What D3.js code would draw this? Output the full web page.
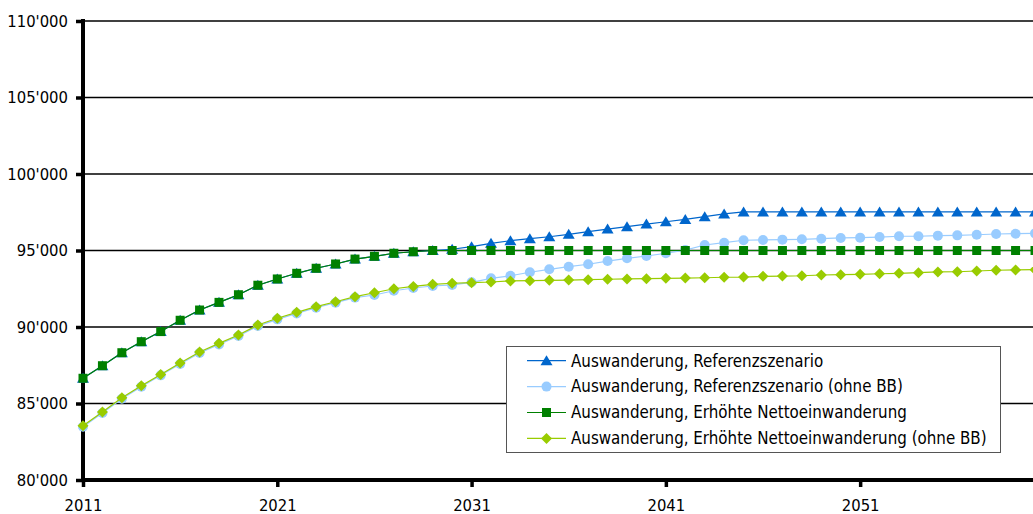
<!DOCTYPE html>
<html>
<head>
<meta charset="utf-8">
<script src="https://cdn.jsdelivr.net/npm/d3@7"></script>
<style>
  body { margin: 0; background: #fff; }
  svg { display: block; }
</style>
</head>
<body>
<div id="chart"></div>
<script>
const years = d3.range(2011, 2061);

const refSzenario = [
  86650, 87470, 88320, 89040, 89700, 90440, 91110, 91610, 92110, 92730,
  93140, 93510, 93840, 94120, 94440, 94620, 94820, 94920, 95000, 95080,
  95250, 95470, 95640, 95770, 95900, 96060, 96230, 96400, 96560, 96730,
  96880, 97030, 97210, 97390, 97520, 97520, 97520, 97520, 97520, 97520,
  97520, 97520, 97520, 97520, 97520, 97520, 97520, 97520, 97520, 97520
];
const refOhneBB = [
  83480, 84380, 85310, 86090, 86840, 87580, 88300, 88860, 89410, 90060,
  90500, 90890, 91260, 91590, 91920, 92090, 92370, 92550, 92680, 92750,
  92920, 93180, 93350, 93580, 93770, 93940, 94100, 94310, 94490, 94640,
  94820, 95030, 95360, 95510, 95670, 95690, 95710, 95730, 95770, 95820,
  95840, 95880, 95930, 95930, 95970, 95990, 96030, 96080, 96100, 96120
];
const erhoeht = [
  86650, 87470, 88320, 89040, 89700, 90440, 91110, 91610, 92110, 92730,
  93140, 93510, 93840, 94120, 94440, 94620, 94820, 94920, 95000, 95000,
  95000, 95000, 95000, 95000, 95000, 95000, 95000, 95000, 95000, 95000,
  95000, 95000, 95000, 95000, 95000, 95000, 95000, 95000, 95000, 95000,
  95000, 95000, 95000, 95000, 95000, 95000, 95000, 95000, 95000, 95000
];
const erhoehtOhneBB = [
  83550, 84440, 85380, 86160, 86900, 87650, 88370, 88930, 89480, 90130,
  90570, 90960, 91330, 91650, 91980, 92240, 92500, 92650, 92790, 92860,
  92900, 92940, 93010, 93030, 93050, 93070, 93090, 93120, 93140, 93160,
  93180, 93200, 93220, 93250, 93260, 93310, 93330, 93350, 93400, 93420,
  93440, 93480, 93510, 93550, 93600, 93610, 93660, 93710, 93730, 93750
];

const seriesNames = [
  "Auswanderung, Referenzszenario",
  "Auswanderung, Referenzszenario (ohne BB)",
  "Auswanderung, Erhöhte Nettoeinwanderung",
  "Auswanderung, Erhöhte Nettoeinwanderung (ohne BB)"
];
const seriesColors = ["#0066CC", "#99CCFF", "#008000", "#99CC00"];
const seriesShapes = ["triangle", "circle", "square", "diamond"];

const yTicks = [80000, 85000, 90000, 95000, 100000, 105000, 110000];
const xTicks = [2011, 2021, 2031, 2041, 2051];

const width = 1033;
const height = 514;
const font = "Tahoma, 'DejaVu Sans Condensed', 'DejaVu Sans', sans-serif";

const svg = d3.select("#chart").append("svg")
  .attr("width", width)
  .attr("height", height);

const x = d3.scaleLinear().domain([2011, 2060]).range([83, 1035]);
const y = d3.scaleLinear().domain([80000, 110000]).range([480, 21]);

const fmt = (v) => d3.format(",")(v).replace(/,/g, "'");

// gridlines
svg.append("g")
  .selectAll("line")
  .data(yTicks.slice(1))
  .join("line")
  .attr("x1", 83)
  .attr("x2", width)
  .attr("y1", (d) => y(d))
  .attr("y2", (d) => y(d))
  .attr("stroke", "#000")
  .attr("stroke-width", 1.5);

// y axis
const yAxis = svg.append("g")
  .attr("transform", "translate(83,0)")
  .call(d3.axisLeft(y).tickValues(yTicks).tickFormat(fmt).tickSize(7).tickPadding(8));
yAxis.select(".domain").remove();
yAxis.selectAll(".tick line").attr("stroke-width", 3.5);
yAxis.selectAll("text")
  .attr("font-family", font)
  .attr("font-size", "16.5px")
  .attr("fill", "#000");
svg.append("line")
  .attr("x1", 83).attr("x2", 83)
  .attr("y1", 19).attr("y2", 482)
  .attr("stroke", "#000").attr("stroke-width", 4);

// x axis
const xAxis = svg.append("g")
  .attr("transform", "translate(0,480)")
  .call(d3.axisBottom(x).tickValues(xTicks).tickFormat(d3.format("d")).tickSize(7).tickPadding(12));
xAxis.select(".domain").remove();
xAxis.selectAll(".tick line").attr("stroke-width", 3.5);
xAxis.selectAll("text")
  .attr("font-family", font)
  .attr("font-size", "16.5px")
  .attr("fill", "#000");
svg.append("line")
  .attr("x1", 81).attr("x2", width)
  .attr("y1", 480).attr("y2", 480)
  .attr("stroke", "#000").attr("stroke-width", 4);

// marker shapes
function markerPath(shape) {
  const p = d3.path();
  if (shape === "triangle") {
    p.moveTo(0, -5.5); p.lineTo(6, 4.5); p.lineTo(-6, 4.5); p.closePath();
  } else if (shape === "square") {
    p.rect(-4.5, -4.5, 9, 9);
  } else if (shape === "diamond") {
    p.moveTo(0, -5.5); p.lineTo(5.5, 0); p.lineTo(0, 5.5); p.lineTo(-5.5, 0); p.closePath();
  } else {
    p.arc(0, 0, 5, 0, 2 * Math.PI);
  }
  return p.toString();
}

const allValues = [refSzenario, refOhneBB, erhoeht, erhoehtOhneBB];
const line = d3.line().x((d, i) => x(years[i])).y((d) => y(d));

allValues.forEach((vals, k) => {
  const g = svg.append("g");
  g.append("path")
    .attr("d", line(vals))
    .attr("fill", "none")
    .attr("stroke", seriesColors[k])
    .attr("stroke-width", 1.2);
  g.selectAll("path.marker")
    .data(vals)
    .join("path")
    .attr("class", "marker")
    .attr("transform", (d, i) => `translate(${x(years[i])},${y(d)})`)
    .attr("d", markerPath(seriesShapes[k]))
    .attr("fill", seriesColors[k]);
});

// legend
const legend = svg.append("g").attr("transform", "translate(506,346)");
legend.append("rect")
  .attr("x", 0.5).attr("y", 0.5)
  .attr("width", 494).attr("height", 106)
  .attr("fill", "#fff")
  .attr("stroke", "#555")
  .attr("stroke-width", 1);

const entries = legend.selectAll("g.entry")
  .data(seriesNames)
  .join("g")
  .attr("class", "entry")
  .attr("transform", (d, i) => `translate(0,${14.7 + i * 25.9})`);

entries.append("line")
  .attr("x1", 21).attr("x2", 60)
  .attr("stroke", (d, i) => seriesColors[i])
  .attr("stroke-width", 1.2);
entries.append("path")
  .attr("transform", "translate(40.5,0)")
  .attr("d", (d, i) => markerPath(seriesShapes[i]))
  .attr("fill", (d, i) => seriesColors[i]);
entries.append("text")
  .attr("x", 65)
  .attr("y", 0)
  .attr("dy", "0.35em")
  .attr("font-family", font)
  .attr("font-size", "16.8px")
  .attr("fill", "#000")
  .text((d) => d);
</script>
</body>
</html>
